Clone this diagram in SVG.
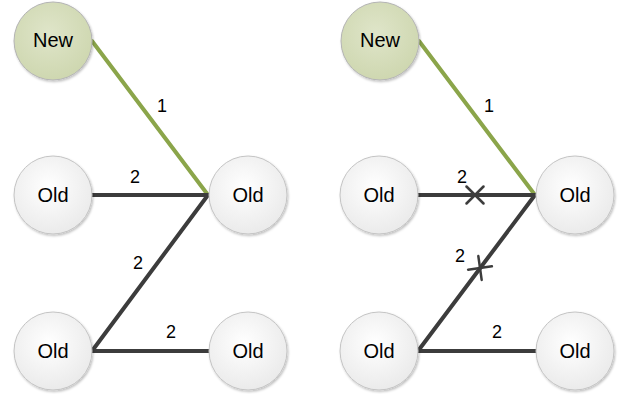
<svg xmlns="http://www.w3.org/2000/svg" width="627" height="394" viewBox="0 0 627 394">
  <defs>
    <radialGradient id="gOld" cx="45%" cy="40%" r="65%">
      <stop offset="0" stop-color="#ffffff"/>
      <stop offset="1" stop-color="#e9e9e9"/>
    </radialGradient>
    <radialGradient id="gNew" cx="45%" cy="40%" r="65%">
      <stop offset="0" stop-color="#dfe5c9"/>
      <stop offset="1" stop-color="#cdd6ae"/>
    </radialGradient>
    <filter id="shadow" x="-20%" y="-20%" width="140%" height="140%">
      <feDropShadow dx="1" dy="1.5" stdDeviation="1.2" flood-color="#000" flood-opacity="0.25"/>
    </filter>
    <g id="cross">
      <line x1="-8.5" y1="-8.5" x2="8.5" y2="8.5"/>
      <line x1="-8.5" y1="8.5" x2="8.5" y2="-8.5"/>
    </g>
  </defs>
  <style>
    .old { fill: url(#gOld); stroke: #c4c4c4; stroke-width: 1; filter: url(#shadow); }
    .new { fill: url(#gNew); stroke: #b4b4b4; stroke-width: 1; filter: url(#shadow); }
    .lbl { font-family: "Liberation Sans", Arial, sans-serif; font-size: 20px; fill: #000; text-anchor: middle; }
    .num { font-family: "Liberation Sans", Arial, sans-serif; font-size: 18px; fill: #000; text-anchor: middle; }
    .edge { stroke: #3c3c3c; stroke-width: 4; fill: none; stroke-linecap: round; }
    .green { stroke: #8ba54a; stroke-width: 4; fill: none; stroke-linecap: round; }
    .cut { stroke: #3c3c3c; stroke-width: 2.5; stroke-linecap: round; }
  </style>

  <!-- connectors -->
  <g id="connectors">
    <!-- left graph -->
    <line class="green" x1="92" y1="41" x2="208" y2="195"/>
    <line class="edge" x1="92" y1="195" x2="208" y2="195"/>
    <line class="edge" x1="208" y1="195" x2="92" y2="351"/>
    <line class="edge" x1="92" y1="351" x2="210" y2="351"/>
    <!-- right graph -->
    <line class="green" x1="419" y1="41" x2="535" y2="195"/>
    <line class="edge" x1="418" y1="195" x2="535" y2="195"/>
    <line class="edge" x1="535" y1="195" x2="418" y2="351"/>
    <line class="edge" x1="418" y1="351" x2="537" y2="351"/>
    <!-- removed edges -->
    <use href="#cross" class="cut" transform="translate(475 195)"/>
    <use href="#cross" class="cut" transform="translate(480 268) rotate(-53)"/>
    <!-- edge weights -->
    <text class="num" x="162" y="112">1</text>
    <text class="num" x="135" y="183">2</text>
    <text class="num" x="138" y="269">2</text>
    <text class="num" x="171" y="338">2</text>
    <text class="num" x="489" y="112">1</text>
    <text class="num" x="462" y="183">2</text>
    <text class="num" x="460" y="262">2</text>
    <text class="num" x="497" y="338">2</text>
  </g>

  <!-- left graph nodes -->
  <g id="L-new"><circle class="new" cx="53" cy="41" r="39"/><text class="lbl" x="53" y="47">New</text></g>
  <g id="L-old1"><circle class="old" cx="53" cy="195" r="39"/><text class="lbl" x="53" y="202">Old</text></g>
  <g id="L-old2"><circle class="old" cx="248" cy="195" r="39"/><text class="lbl" x="248" y="202">Old</text></g>
  <g id="L-old3"><circle class="old" cx="53" cy="351" r="39"/><text class="lbl" x="53" y="358">Old</text></g>
  <g id="L-old4"><circle class="old" cx="248" cy="351" r="39"/><text class="lbl" x="248" y="358">Old</text></g>

  <!-- right graph nodes -->
  <g id="R-new"><circle class="new" cx="380" cy="41" r="39"/><text class="lbl" x="380" y="47">New</text></g>
  <g id="R-old1"><circle class="old" cx="379" cy="195" r="39"/><text class="lbl" x="379" y="202">Old</text></g>
  <g id="R-old2"><circle class="old" cx="575" cy="195" r="39"/><text class="lbl" x="575" y="202">Old</text></g>
  <g id="R-old3"><circle class="old" cx="379" cy="351" r="39"/><text class="lbl" x="379" y="358">Old</text></g>
  <g id="R-old4"><circle class="old" cx="575" cy="351" r="39"/><text class="lbl" x="575" y="358">Old</text></g>
</svg>
